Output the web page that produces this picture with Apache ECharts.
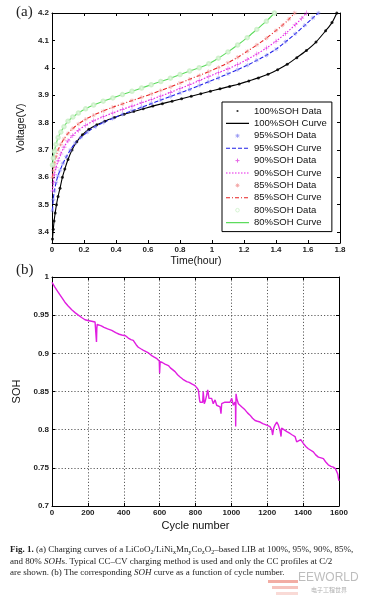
<!DOCTYPE html>
<html><head><meta charset="utf-8">
<script src="https://cdn.jsdelivr.net/npm/echarts@6/dist/echarts.min.js"></script>
<style>html,body{margin:0;padding:0;background:#fff;}#c{width:368px;height:600px;}</style>
</head><body><div id="c"></div>
<script>
// ---------- data: chart (a) ----------
const timeTicks = [0, 0.2, 0.4, 0.6, 0.8, 1, 1.2, 1.4, 1.6, 1.8];
const voltTicks = [3.4, 3.5, 3.6, 3.7, 3.8, 3.9, 4.0, 4.1, 4.2];
const sohLevels = ['100%', '95%', '90%', '85%', '80%'];
const v100 = [[0.003,3.375],[0.008,3.41],[0.013,3.44],[0.02,3.47],[0.028,3.50],[0.038,3.53],[0.05,3.56],[0.065,3.60],[0.08,3.63],[0.1,3.665],[0.125,3.70],[0.155,3.73],[0.19,3.755],[0.23,3.775],[0.28,3.792],[0.33,3.805],[0.39,3.818],[0.45,3.83],[0.51,3.84],[0.57,3.85],[0.63,3.86],[0.69,3.869],[0.75,3.878],[0.81,3.887],[0.87,3.896],[0.93,3.905],[0.99,3.914],[1.05,3.923],[1.11,3.932],[1.17,3.941],[1.23,3.952],[1.29,3.963],[1.35,3.976],[1.41,3.993],[1.47,4.013],[1.53,4.037],[1.59,4.063],[1.65,4.094],[1.71,4.135],[1.75,4.165],[1.78,4.2]];
const v95 = [[0.003,3.48],[0.008,3.52],[0.015,3.55],[0.025,3.58],[0.037,3.605],[0.05,3.625],[0.068,3.65],[0.09,3.675],[0.115,3.70],[0.145,3.725],[0.18,3.745],[0.22,3.765],[0.27,3.785],[0.32,3.80],[0.38,3.815],[0.44,3.83],[0.5,3.843],[0.56,3.856],[0.62,3.869],[0.68,3.882],[0.74,3.895],[0.8,3.908],[0.86,3.921],[0.92,3.935],[0.98,3.949],[1.04,3.963],[1.1,3.978],[1.16,3.993],[1.22,4.009],[1.28,4.027],[1.34,4.046],[1.4,4.068],[1.46,4.095],[1.52,4.124],[1.58,4.155],[1.63,4.182],[1.665,4.2]];
const v90 = [[0.003,3.55],[0.008,3.58],[0.015,3.61],[0.025,3.635],[0.038,3.66],[0.055,3.685],[0.075,3.71],[0.1,3.733],[0.13,3.753],[0.165,3.772],[0.21,3.79],[0.26,3.806],[0.32,3.821],[0.38,3.835],[0.44,3.848],[0.5,3.86],[0.56,3.872],[0.62,3.884],[0.68,3.897],[0.74,3.91],[0.8,3.924],[0.86,3.938],[0.92,3.953],[0.98,3.968],[1.04,3.982],[1.1,3.996],[1.16,4.012],[1.22,4.03],[1.28,4.05],[1.34,4.072],[1.4,4.097],[1.46,4.125],[1.52,4.157],[1.56,4.18],[1.59,4.2]];
const v85 = [[0.003,3.60],[0.008,3.625],[0.015,3.65],[0.025,3.675],[0.038,3.70],[0.055,3.72],[0.075,3.74],[0.1,3.76],[0.13,3.778],[0.165,3.795],[0.21,3.812],[0.26,3.827],[0.32,3.842],[0.38,3.856],[0.44,3.868],[0.5,3.88],[0.56,3.892],[0.62,3.904],[0.68,3.917],[0.74,3.93],[0.8,3.944],[0.86,3.958],[0.92,3.972],[0.98,3.986],[1.04,4.001],[1.1,4.018],[1.16,4.038],[1.22,4.06],[1.28,4.083],[1.34,4.108],[1.4,4.136],[1.44,4.155],[1.48,4.177],[1.517,4.2]];
const v80 = [[0.003,3.645],[0.008,3.67],[0.015,3.695],[0.025,3.72],[0.038,3.745],[0.055,3.765],[0.075,3.785],[0.1,3.805],[0.13,3.82],[0.165,3.835],[0.21,3.85],[0.26,3.864],[0.32,3.878],[0.38,3.89],[0.44,3.902],[0.5,3.914],[0.56,3.926],[0.62,3.938],[0.68,3.95],[0.74,3.962],[0.8,3.975],[0.86,3.988],[0.92,4.0],[0.98,4.015],[1.04,4.035],[1.1,4.058],[1.16,4.083],[1.22,4.11],[1.28,4.14],[1.34,4.17],[1.39,4.2]];

// ---------- data: chart (b) ----------
const cycleTicks = [0, 200, 400, 600, 800, 1000, 1200, 1400, 1600];
const sohTicks = [0.7, 0.75, 0.8, 0.85, 0.9, 0.95, 1];
const sohCurve = [[0,0.993],[15,0.987],[35,0.980],[55,0.973],[72,0.967],[90,0.962],[110,0.957],[130,0.953],[147,0.950],[165,0.947],[184,0.944],[200,0.943],[221,0.942],[240,0.941],[246,0.940],[248,0.915],[250,0.933],[252,0.938],[260,0.937],[275,0.936],[290,0.934],[310,0.932],[333,0.930],[355,0.927],[375,0.925],[389,0.924],[400,0.924],[410,0.923],[425,0.920],[440,0.918],[453,0.917],[462,0.915],[470,0.911],[481,0.908],[495,0.906],[510,0.904],[520,0.903],[535,0.901],[545,0.899],[556,0.897],[570,0.895],[585,0.893],[598,0.890],[600,0.874],[603,0.889],[615,0.888],[630,0.886],[649,0.884],[660,0.881],[670,0.879],[686,0.876],[700,0.872],[714,0.869],[730,0.866],[751,0.863],[765,0.862],[779,0.860],[795,0.858],[807,0.855],[816,0.852],[822,0.840],[825,0.836],[840,0.836],[843,0.850],[846,0.852],[849,0.834],[855,0.838],[862,0.845],[868,0.852],[871,0.848],[875,0.841],[890,0.841],[899,0.834],[909,0.839],[918,0.832],[927,0.834],[937,0.830],[942,0.821],[946,0.834],[955,0.836],[964,0.836],[980,0.836],[992,0.836],[1002,0.841],[1011,0.832],[1020,0.836],[1023,0.830],[1024,0.804],[1026,0.847],[1030,0.841],[1039,0.834],[1050,0.832],[1057,0.830],[1066,0.828],[1076,0.826],[1090,0.822],[1104,0.819],[1118,0.815],[1132,0.812],[1145,0.811],[1160,0.810],[1175,0.808],[1197,0.806],[1215,0.804],[1225,0.800],[1230,0.793],[1236,0.802],[1243,0.806],[1253,0.810],[1262,0.806],[1271,0.799],[1277,0.791],[1280,0.802],[1290,0.800],[1299,0.799],[1312,0.797],[1327,0.795],[1340,0.793],[1355,0.791],[1364,0.784],[1375,0.786],[1387,0.787],[1395,0.785],[1401,0.782],[1415,0.778],[1429,0.775],[1440,0.774],[1457,0.771],[1470,0.767],[1485,0.764],[1500,0.763],[1513,0.762],[1525,0.758],[1540,0.754],[1555,0.752],[1568,0.751],[1580,0.749],[1587,0.747],[1593,0.742],[1597,0.736],[1600,0.733]];

// ---------- styles ----------
const SANS = '"Liberation Sans", Arial, sans-serif';
const SERIF = '"Liberation Serif", "Times New Roman", serif';
const voltData = [v100, v95, v90, v85, v80];
const curveColors = ['#000000', '#1f1fe8', '#e81fe8', '#e82020', '#5cdc5c'];
const markColors = ['#000000', '#7b7bf0', '#e040e0', '#f08a8a', '#c4eec0'];
const dashTypes = ['solid', [4, 2], [1.5, 1.5], [4, 2, 1, 2], 'solid'];
const markKinds = ['dot', 'star', 'plus', 'star', 'ring'];
const symbolPaths = {
  dot: 'circle',
  plus: 'path://M4.4,0h1.2v4.4h4.4v1.2h-4.4v4.4h-1.2v-4.4h-4.4v-1.2h4.4z',
  star: 'path://M4.5,0h1v3.8l2.7,-2.7l0.7,0.7l-2.7,2.7h3.8v1h-3.8l2.7,2.7l-0.7,0.7l-2.7,-2.7v3.8h-1v-3.8l-2.7,2.7l-0.7,-0.7l2.7,-2.7h-3.8v-1h3.8l-2.7,-2.7l0.7,-0.7l2.7,2.7z',
  ring: 'emptyCircle'
};
const symbolSizes = {dot: 3, plus: 5, star: 4.5, ring: 3.5};

function svgIcon(inner) {
  const svg = '<svg xmlns="http://www.w3.org/2000/svg" width="23" height="10" viewBox="0 0 23 10">' + inner + '</svg>';
  return 'image://data:image/svg+xml;charset=utf-8,' + encodeURIComponent(svg);
}
function markIcon(kind, color) {
  if (kind === 'dot') return svgIcon('<circle cx="11.5" cy="5" r="1.1" fill="' + color + '"/>');
  if (kind === 'plus') return svgIcon('<path d="M9.5,5H13.5M11.5,3V7" stroke="' + color + '" stroke-width="1"/>');
  if (kind === 'star') return svgIcon('<path d="M9.5,5H13.5M11.5,3V7M10,3.5L13,6.5M13,3.5L10,6.5" stroke="' + color + '" stroke-width="0.8"/>');
  return svgIcon('<circle cx="11.5" cy="5" r="1.8" fill="none" stroke="' + color + '" stroke-width="0.9"/>');
}
function lineIcon(color, dash) {
  const da = Array.isArray(dash) ? ' stroke-dasharray="' + dash.join(',') + '"' : '';
  return svgIcon('<line x1="0" y1="5" x2="23" y2="5" stroke="' + color + '" stroke-width="1.1"' + da + '/>');
}

const series = [];
const legendData = [];
sohLevels.forEach((lv, i) => {
  const kind = markKinds[i];
  series.push({
    name: lv + 'SOH Curve', type: 'line', xAxisIndex: 0, yAxisIndex: 0,
    data: voltData[i], smooth: 0.3, showSymbol: false, symbol: 'none',
    lineStyle: {color: curveColors[i], width: 1.1, type: dashTypes[i]}, z: 2
  });
  series.push({
    name: lv + 'SOH Data', type: 'scatter', xAxisIndex: 0, yAxisIndex: 0,
    data: voltData[i], symbol: symbolPaths[kind], symbolSize: symbolSizes[kind],
    itemStyle: {color: markColors[i], borderColor: markColors[i], borderWidth: kind === 'ring' ? 0.8 : 0}, z: 3
  });
  legendData.push({name: lv + 'SOH Data', icon: markIcon(kind, markColors[i])});
  legendData.push({name: lv + 'SOH Curve', icon: lineIcon(curveColors[i], dashTypes[i])});
});
series.push({
  name: 'SOH', type: 'line', xAxisIndex: 2, yAxisIndex: 2, data: sohCurve,
  showSymbol: false, symbol: 'none', lineStyle: {color: '#e01ee0', width: 1.4}, z: 3
});

const labelStyle = {fontSize: 8, fontWeight: 'bold', color: '#222', fontFamily: SANS};
function boxAxis(gridIndex, pos, extra) {
  return Object.assign({
    gridIndex, type: 'value', position: pos,
    axisLine: {show: true, onZero: false, lineStyle: {color: '#000', width: 1}},
    axisTick: {show: true, inside: true, length: 3, lineStyle: {color: '#000'}},
    axisLabel: {show: false}, splitLine: {show: false}
  }, extra);
}

const option = {
  animation: false,
  backgroundColor: '#fff',
  grid: [
    {left: 52, top: 13, width: 288, height: 230},
    {left: 52, top: 277, width: 287, height: 229}
  ],
  xAxis: [
    boxAxis(0, 'bottom', {min: 0, max: 1.8, interval: 0.2,
      axisLabel: Object.assign({show: true, margin: 3, formatter: v => String(+(+v).toFixed(1))}, labelStyle),
      name: 'Time(hour)', nameLocation: 'middle', nameGap: 13,
      nameTextStyle: {fontSize: 10.5, color: '#111', fontFamily: SANS}}),
    boxAxis(0, 'top', {min: 0, max: 1.8, interval: 0.2}),
    boxAxis(1, 'bottom', {min: 0, max: 1600, interval: 200,
      axisLabel: Object.assign({show: true, margin: 3, formatter: v => String(Math.round(v))}, labelStyle),
      splitLine: {show: true, lineStyle: {color: '#333', type: [1.2, 2], width: 0.8}},
      name: 'Cycle number', nameLocation: 'middle', nameGap: 14,
      nameTextStyle: {fontSize: 11, color: '#111', fontFamily: SANS}}),
    boxAxis(1, 'top', {min: 0, max: 1600, interval: 200})
  ],
  yAxis: [
    boxAxis(0, 'left', {min: 3.36, max: 4.2,
      axisTick: {show: true, inside: true, length: 3, customValues: voltTicks, lineStyle: {color: '#000'}},
      axisLabel: Object.assign({show: true, margin: 3, customValues: voltTicks, formatter: v => String(+(+v).toFixed(1))}, labelStyle),
      name: 'Voltage(V)', nameLocation: 'middle', nameGap: 20,
      nameTextStyle: {fontSize: 10.5, color: '#111', fontFamily: SANS}}),
    boxAxis(0, 'right', {min: 3.36, max: 4.2,
      axisTick: {show: true, inside: true, length: 3, customValues: voltTicks, lineStyle: {color: '#000'}}}),
    boxAxis(1, 'left', {min: 0.7, max: 1, interval: 0.05,
      axisLabel: Object.assign({show: true, margin: 3, formatter: v => String(+(+v).toFixed(2))}, labelStyle),
      splitLine: {show: true, lineStyle: {color: '#333', type: [1.2, 2], width: 0.8}},
      name: 'SOH', nameLocation: 'middle', nameGap: 20,
      nameTextStyle: {fontSize: 11, color: '#111', fontFamily: SANS}}),
    boxAxis(1, 'right', {min: 0.7, max: 1, interval: 0.05})
  ],
  legend: {
    left: 222, top: 102, orient: 'vertical',
    itemWidth: 23, itemHeight: 10, itemGap: 2.4,
    padding: [4, 5, 4, 4], borderColor: '#000', borderWidth: 1, backgroundColor: '#fff',
    selectedMode: false,
    textStyle: {fontSize: 9.5, fontFamily: SANS, color: '#111', lineHeight: 10},
    data: legendData
  },
  graphic: [
    {type: 'text', left: 16, top: 5, style: {text: '(a)', font: '15px ' + SERIF, fill: '#222'}},
    {type: 'text', left: 16, top: 263, style: {text: '(b)', font: '15px ' + SERIF, fill: '#222'}},
    {type: 'text', left: 10, top: 545, style: {
      text: '{b|Fig. 1.} (a) Charging curves of a LiCoO{s|2}/LiNi{s|x}Mn{s|y}Co{s|z}O{s|2}–based LIB at 100%, 95%, 90%, 85%,',
      fontSize: 9, fontFamily: SERIF, fill: '#222',
      rich: {b: {fontWeight: 'bold', fontSize: 9, fontFamily: SERIF, lineHeight: 12},
             s: {fontSize: 6, fontFamily: SERIF, verticalAlign: 'bottom', lineHeight: 7}}}},
    {type: 'text', left: 10, top: 557, style: {
      text: 'and 80% {i|SOH}s. Typical CC–CV charging method is used and only the CC profiles at C/2',
      fontSize: 9, fontFamily: SERIF, fill: '#222',
      rich: {i: {fontStyle: 'italic', fontSize: 9, fontFamily: SERIF}}}},
    {type: 'text', left: 10, top: 568, style: {
      text: 'are shown. (b) The corresponding {i|SOH} curve as a function of cycle number.',
      fontSize: 9, fontFamily: SERIF, fill: '#222',
      rich: {i: {fontStyle: 'italic', fontSize: 9, fontFamily: SERIF}}}},
    {type: 'rect', left: 268, top: 580, shape: {width: 30, height: 3}, style: {fill: '#e86a5a', opacity: 0.55}},
    {type: 'rect', left: 272, top: 586, shape: {width: 26, height: 3}, style: {fill: '#e86a5a', opacity: 0.4}},
    {type: 'rect', left: 276, top: 592, shape: {width: 22, height: 3}, style: {fill: '#e86a5a', opacity: 0.25}},
    {type: 'text', left: 298, top: 572, style: {text: 'EEWORLD', font: '12px ' + SANS, fill: '#bdbdbd'}},
    {type: 'text', left: 311, top: 587, style: {text: '电子工程世界', font: '6px "Noto Sans CJK SC"', fill: '#b0b0b0'}}
  ],
  series
};
const chart = echarts.init(document.getElementById('c'), null, {renderer: 'canvas'});
chart.setOption(option);
</script></body></html>
